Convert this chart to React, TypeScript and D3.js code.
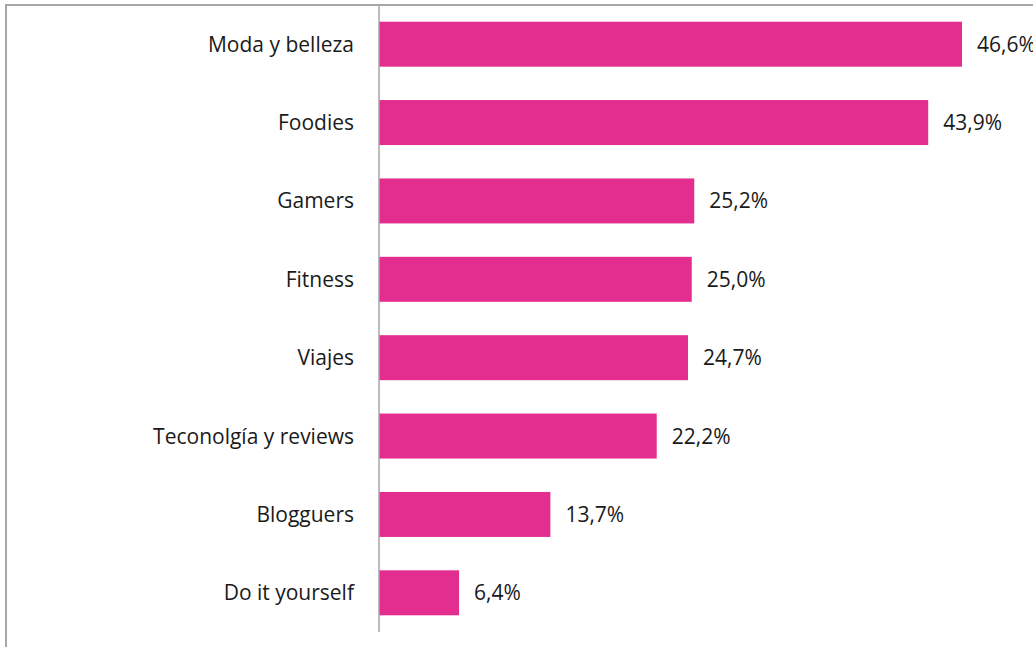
import React from "react";
import * as d3 from "d3";

const categories = [
  "Moda y belleza",
  "Foodies",
  "Gamers",
  "Fitness",
  "Viajes",
  "Teconolgía y reviews",
  "Blogguers",
  "Do it yourself",
];
const values = [46.6, 43.9, 25.2, 25.0, 24.7, 22.2, 13.7, 6.4];

const W = 1033;
const H = 647;

export default function App() {
  const x0 = 379;
  const x = d3.scaleLinear().domain([0, 1]).range([x0, x0 + 12.51]);
  const y = d3
    .scaleBand<string>()
    .domain(categories)
    .range([5, 632])
    .paddingInner(0.426)
    .paddingOuter(0.213);
  const fmt = (v: number) => v.toFixed(1).replace(".", ",") + "%";
  const font = "'Open Sans', sans-serif";
  return (
    <svg
      width={W}
      height={H}
      style={{ position: "absolute", left: 0, top: 0, background: "#fff" }}
    >
      <line x1={6} x2={W} y1={5} y2={5} stroke="#a6a6a6" strokeWidth={2} />
      <line x1={6} x2={6} y1={4} y2={H} stroke="#a6a6a6" strokeWidth={2} />
      {categories.map((c, i) => (
        <g key={c}>
          <rect
            x={x(0)}
            y={y(c)}
            width={x(values[i]) - x(0)}
            height={y.bandwidth()}
            fill="#E32D8F"
          />
          <text
            x={354}
            y={(y(c) as number) + y.bandwidth() / 2}
            dy="0.36em"
            textAnchor="end"
            fontFamily={font}
            fontSize={21}
            fill="#1a1a1a"
          >
            {c}
          </text>
          <text
            x={x(values[i]) + 15}
            y={(y(c) as number) + y.bandwidth() / 2}
            dy="0.36em"
            textAnchor="start"
            fontFamily={font}
            fontSize={21}
            fill="#1a1a1a"
          >
            {fmt(values[i])}
          </text>
        </g>
      ))}
      <line x1={x0} x2={x0} y1={5} y2={632} stroke="#a6a6a6" strokeWidth={1.5} />
    </svg>
  );
}
